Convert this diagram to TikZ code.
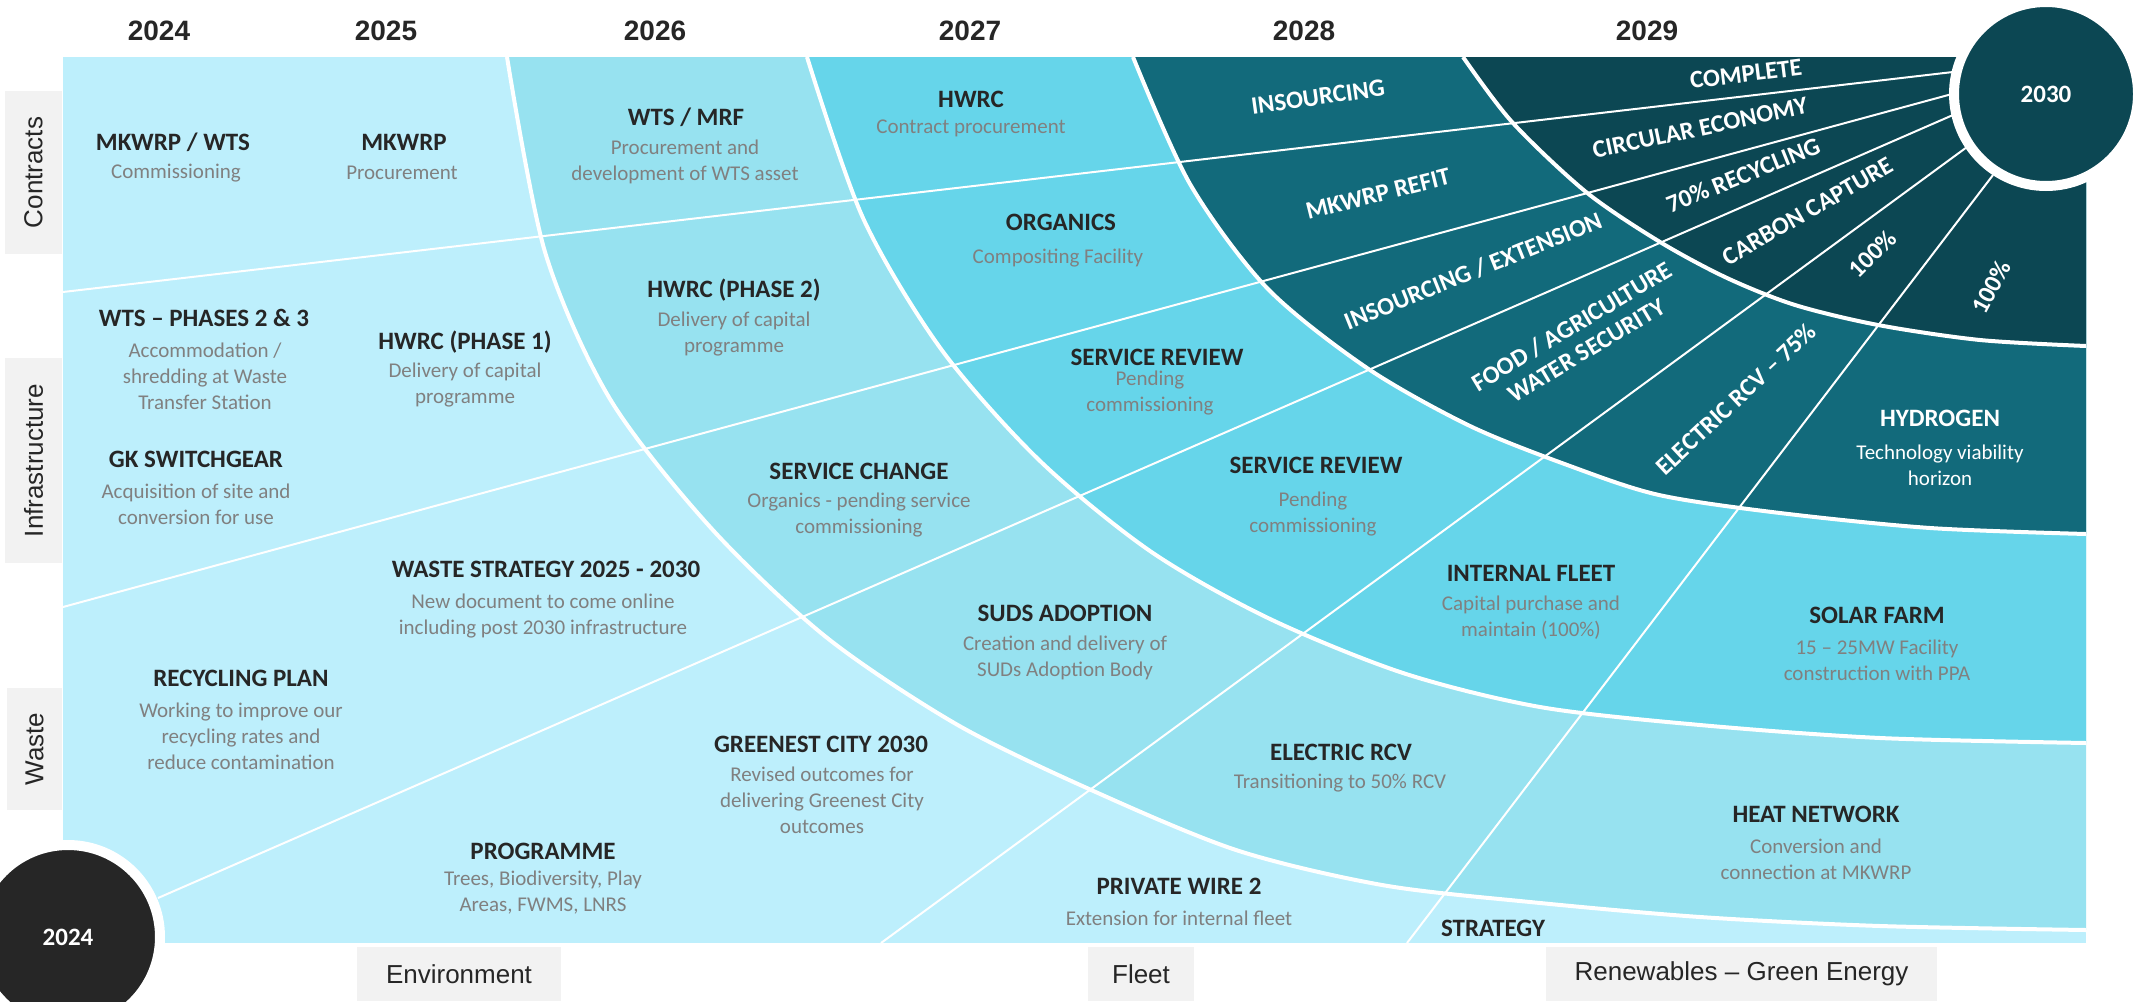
\documentclass[tikz,border=0pt]{standalone}
\usepackage{xcolor}
\usepackage{fontspec}
\setmainfont{Carlito}
\newfontfamily\arialfont{Liberation Sans}
\usepackage{tikz}

\definecolor{zonea}{HTML}{BDEFFC}
\definecolor{zoneb}{HTML}{97E2F0}
\definecolor{zonec}{HTML}{66D5EA}
\definecolor{zoned}{HTML}{126A7B}
\definecolor{zonee}{HTML}{0C4753}
\definecolor{ink}{HTML}{262626}
\definecolor{notegrey}{HTML}{808080}
\definecolor{tabgrey}{HTML}{F2F2F2}

\begin{document}
\begin{tikzpicture}[x=0.5pt, y=-0.5pt,
    ttl/.style={font=\bfseries\fontsize{12.5}{15}\selectfont, text=ink, inner sep=0pt, text height=8pt, text depth=0pt},
    note/.style={font=\fontsize{10.5}{13}\selectfont, text=notegrey, align=center, inner sep=0pt},
    wtl/.style={font=\bfseries\fontsize{12.5}{14}\selectfont, text=white, inner sep=0pt, align=center},
    yr/.style={font=\arialfont\bfseries\fontsize{14}{16}\selectfont, text=ink},
    tab/.style={fill=tabgrey, inner sep=0pt, font=\arialfont\fontsize{13}{15}\selectfont, text=ink},
    hub/.style={circle, minimum size=92pt, draw=white, line width=5pt, font=\bfseries\fontsize{12.5}{15}\selectfont, text=white},
    spoke/.style={white, line width=1pt},
    ring/.style={white, line width=2pt},
  ]
    \useasboundingbox (0,0) rectangle (2134,1001);

    \node[yr] (y2024) at (159,31) {2024};
    \node[yr] (y2025) at (386,31) {2025};
    \node[yr] (y2026) at (655,31) {2026};
    \node[yr] (y2027) at (970,31) {2027};
    \node[yr] (y2028) at (1304,31) {2028};
    \node[yr] (y2029) at (1647,31) {2029};

    \node[tab, rotate=90, minimum width=81.5pt, minimum height=28.5pt] (contracts) at (33.5,172.5) {Contracts};
    \node[tab, rotate=90, minimum width=102.5pt, minimum height=28.5pt] (infra) at (33.5,460.5) {Infrastructure};
    \node[tab, rotate=90, minimum width=61pt, minimum height=27.5pt] (waste) at (34.5,749) {Waste};
    \node[tab, minimum width=102pt, minimum height=27pt] (environment) at (459,974) {Environment};
    \node[tab, minimum width=53pt, minimum height=27pt] (fleet) at (1141,974) {Fleet};
    \node[tab, minimum width=195.5pt, minimum height=27pt] (renewables) at (1741.5,974) {Renewables – Green Energy};

    \fill[zonea] (63,57) rectangle (2086,943);
    \fill[zoneb] plot[smooth] coordinates {(507,57) (545,252) (610,399) (711,528) (826,637) (956,724) (1089,789) (1236,850) (1382,885) (1530,902) (1700,917) (1880,926) (2086,930)} -- (2086,57) -- cycle;
    \fill[zonec] plot[smooth] coordinates {(807,57) (863,218) (941,349) (1039,460) (1150,551) (1268,618) (1403,673) (1540,707) (1700,725) (1880,738) (2086,743)} -- (2086,57) -- cycle;
    \fill[zoned] plot[smooth] coordinates {(1133,57) (1190,184) (1267,288) (1367,368) (1470,426) (1570,466) (1659,495) (1780,513) (1930,528) (2086,534)} -- (2086,57) -- cycle;
    \fill[zonee] plot[smooth] coordinates {(1463,57) (1512,122) (1586,192) (1660,242) (1727,278) (1795,305) (1878,325) (1980,340) (2086,346)} -- (2086,57) -- cycle;

    \draw[ring] plot[smooth] coordinates {(507,57) (545,252) (610,399) (711,528) (826,637) (956,724) (1089,789) (1236,850) (1382,885) (1530,902) (1700,917) (1880,926) (2086,930)};
    \draw[ring] plot[smooth] coordinates {(807,57) (863,218) (941,349) (1039,460) (1150,551) (1268,618) (1403,673) (1540,707) (1700,725) (1880,738) (2086,743)};
    \draw[ring] plot[smooth] coordinates {(1133,57) (1190,184) (1267,288) (1367,368) (1470,426) (1570,466) (1659,495) (1780,513) (1930,528) (2086,534)};
    \draw[ring] plot[smooth] coordinates {(1463,57) (1512,122) (1586,192) (1660,242) (1727,278) (1795,305) (1878,325) (1980,340) (2086,346)};

    \coordinate (s1a) at (63,292);
    \coordinate (s1b) at (1953,72);
    \coordinate (s2a) at (63,607);
    \coordinate (s2b) at (1952,94);
    \coordinate (s3a) at (158,898);
    \coordinate (s3b) at (1953,115);
    \coordinate (s4a) at (881,943);
    \coordinate (s4b) at (1967,147);
    \coordinate (s5a) at (1407,943);
    \coordinate (s5b) at (1993,175);
    \draw[spoke] (s1a) -- (s1b);
    \draw[spoke] (s2a) -- (s2b);
    \draw[spoke] (s3a) -- (s3b);
    \draw[spoke] (s4a) -- (s4b);
    \draw[spoke] (s5a) -- (s5b);

    \node[hub, fill=zonee] (hub2030) at (2046,94) {2030};
    \node[hub, fill=ink] (hub2024) at (68,937) {2024};

    \node[ttl] (mkwrpwts) at (173,142) {MKWRP / WTS};
    \node[note] (mkwrpwts-n) at (176,173) {Commissioning};
    \node[ttl] (mkwrp) at (404,142) {MKWRP};
    \node[note] (mkwrp-n) at (402,173) {Procurement};
    \node[ttl] (wtsmrf) at (686,117) {WTS / MRF};
    \node[note] (wtsmrf-n) at (685,162) {Procurement and\\development of WTS asset};
    \node[ttl] (hwrc) at (971,99) {HWRC};
    \node[note] (hwrc-n) at (971,128) {Contract procurement};

    \node[ttl] (wtsphases) at (204,318) {WTS – PHASES 2 \& 3};
    \node[note] (wtsphases-n) at (205,376) {Accommodation /\\shredding at Waste\\Transfer Station};
    \node[ttl] (hwrcone) at (465,341) {HWRC (PHASE 1)};
    \node[note] (hwrcone-n) at (465,385) {Delivery of capital\\programme};
    \node[ttl] (hwrctwo) at (734,289) {HWRC (PHASE 2)};
    \node[note] (hwrctwo-n) at (734,334) {Delivery of capital\\programme};
    \node[ttl] (gkswitch) at (196,459) {GK SWITCHGEAR};
    \node[note] (gkswitch-n) at (196,504) {Acquisition of site and\\conversion for use};
    \node[ttl] (organics) at (1061,222) {ORGANICS};
    \node[note] (organics-n) at (1058,258) {Compositing Facility};

    \node[ttl] (reviewone) at (1157,357) {SERVICE REVIEW};
    \node[note] (reviewone-n) at (1150,393) {Pending\\commissioning};
    \node[ttl] (servchange) at (859,471) {SERVICE CHANGE};
    \node[note] (servchange-n) at (859,515) {Organics - pending service\\commissioning};
    \node[ttl] (reviewtwo) at (1316,465) {SERVICE REVIEW};
    \node[note] (reviewtwo-n) at (1313,514) {Pending\\commissioning};
    \node[ttl] (wastestrat) at (546,569) {WASTE STRATEGY 2025 - 2030};
    \node[note] (wastestrat-n) at (543,616) {New document to come online\\including post 2030 infrastructure};

    \node[ttl] (recplan) at (241,678) {RECYCLING PLAN};
    \node[note] (recplan-n) at (241,736) {Working to improve our\\recycling rates and\\reduce contamination};
    \node[ttl] (programme) at (543,851) {PROGRAMME};
    \node[note] (programme-n) at (543,893) {Trees, Biodiversity, Play\\Areas, FWMS, LNRS};
    \node[ttl] (greenest) at (821,744) {GREENEST CITY 2030};
    \node[note] (greenest-n) at (822,800) {Revised outcomes for\\delivering Greenest City\\outcomes};
    \node[ttl] (suds) at (1065,613) {SUDS ADOPTION};
    \node[note] (suds-n) at (1065,658) {Creation and delivery of\\SUDs Adoption Body};
    \node[ttl] (elecrcv) at (1341,752) {ELECTRIC RCV};
    \node[note] (elecrcv-n) at (1340,783) {Transitioning to 50\% RCV};
    \node[ttl] (privwire) at (1179,886) {PRIVATE WIRE 2};
    \node[note] (privwire-n) at (1179,918) {Extension for internal fleet};
    \node[ttl] (strategy) at (1493,928) {STRATEGY};

    \node[ttl] (intfleet) at (1531,573) {INTERNAL FLEET};
    \node[note] (intfleet-n) at (1531,618) {Capital purchase and\\maintain (100\%)};
    \node[ttl] (solar) at (1877,615) {SOLAR FARM};
    \node[note] (solar-n) at (1877,660) {15 – 25MW Facility\\construction with PPA};
    \node[ttl] (heat) at (1816,814) {HEAT NETWORK};
    \node[note] (heat-n) at (1816,859) {Conversion and\\connection at MKWRP};

    \node[wtl] (hydrogen) at (1940,418) {HYDROGEN};
    \node[note, text=white] (hydrogen-n) at (1940,465) {Technology viability\\horizon};
    \node[wtl, rotate=8] (insourcing) at (1318,97) {INSOURCING};
    \node[wtl, rotate=14] (refit) at (1378,194) {MKWRP REFIT};
    \node[wtl, rotate=22] (extension) at (1473,271) {INSOURCING / EXTENSION};
    \node[wtl, rotate=31] (food) at (1579,338) {FOOD / AGRICULTURE\\WATER SECURITY};
    \node[wtl, rotate=43] (ercv) at (1736,399) {ELECTRIC RCV – 75\%};

    \node[wtl, rotate=7] (complete) at (1746,74) {COMPLETE};
    \node[wtl, rotate=12] (circular) at (1700,128) {CIRCULAR ECONOMY};
    \node[wtl, rotate=22] (recycling) at (1743,175) {70\% RECYCLING};
    \node[wtl, rotate=30] (carbon) at (1808,211) {CARBON CAPTURE};
    \node[wtl, rotate=45] (fullone) at (1872,254) {100\%};
    \node[wtl, rotate=62] (fulltwo) at (1991,287) {100\%};
\end{tikzpicture}
\end{document}
